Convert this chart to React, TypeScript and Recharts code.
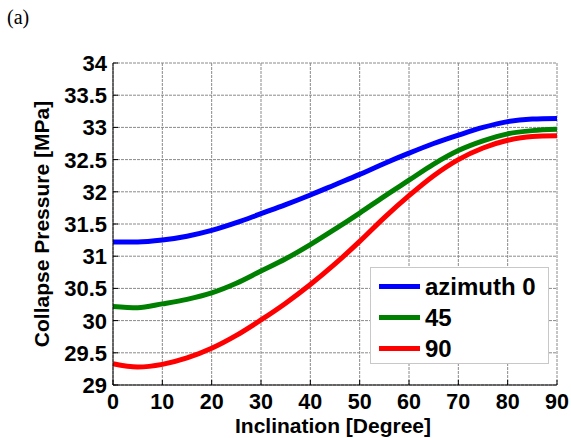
import React from "react";
import {
  LineChart,
  Line,
  XAxis,
  YAxis,
  CartesianGrid,
  Legend,
} from "recharts";

const inclination = [0, 5, 10, 15, 20, 25, 30, 35, 40, 45, 50, 55, 60, 65, 70, 75, 80, 85, 90];
const azimuth0 = [31.22, 31.22, 31.25, 31.31, 31.4, 31.52, 31.66, 31.8, 31.95, 32.11, 32.27, 32.44, 32.6, 32.75, 32.88, 33.0, 33.09, 33.13, 33.14];
const azimuth45 = [30.22, 30.2, 30.26, 30.33, 30.43, 30.58, 30.77, 30.96, 31.18, 31.42, 31.67, 31.93, 32.18, 32.43, 32.64, 32.79, 32.9, 32.95, 32.97];
const azimuth90 = [29.33, 29.28, 29.32, 29.42, 29.57, 29.77, 30.01, 30.27, 30.56, 30.88, 31.23, 31.6, 31.94, 32.25, 32.5, 32.68, 32.8, 32.86, 32.87];

const xTicks = [0, 10, 20, 30, 40, 50, 60, 70, 80, 90];
const yTicks = [29, 29.5, 30, 30.5, 31, 31.5, 32, 32.5, 33, 33.5, 34];

const series = [
  { key: "a0", name: "azimuth 0", color: "#0000ff" },
  { key: "a45", name: "45", color: "#008000" },
  { key: "a90", name: "90", color: "#ff0000" },
];

const data = inclination.map((x, i) => ({
  x,
  a0: azimuth0[i],
  a45: azimuth45[i],
  a90: azimuth90[i],
}));

const FONT = "'Liberation Sans', Arial, sans-serif";
const TICK_GAP = 9;

function BottomTick(props: any) {
  const { x, y, payload } = props;
  const axisY = y - TICK_GAP;
  return (
    <g>
      <line x1={x} x2={x} y1={axisY} y2={axisY - 5} stroke="#000" strokeWidth={1} />
      <text x={x} y={y} dy="0.71em" textAnchor="middle" fontFamily={FONT} fontWeight="bold" fontSize={21.5} fill="#000">
        {payload.value}
      </text>
    </g>
  );
}

function LeftTick(props: any) {
  const { x, y, payload } = props;
  const axisX = x + 6;
  return (
    <g>
      <line x1={axisX} x2={axisX + 5} y1={y} y2={y} stroke="#000" strokeWidth={1} />
      <text x={x} y={y} dy="0.36em" textAnchor="end" fontFamily={FONT} fontWeight="bold" fontSize={22} fill="#000">
        {payload.value}
      </text>
    </g>
  );
}

function LegendBox() {
  return (
    <div
      style={{
        border: "1px solid #c8c8c8",
        background: "#fff",
        width: 177,
        height: 92,
        paddingTop: 3,
      }}
    >
      {series.map((s) => (
        <div key={s.key} style={{ display: "flex", alignItems: "center", height: 31 }}>
          <div style={{ width: 41, height: 5, background: s.color, marginLeft: 8, marginRight: 5 }} />
          <span style={{ fontFamily: FONT, fontWeight: "bold", fontSize: 24, color: "#000", lineHeight: "31px" }}>
            {s.name}
          </span>
        </div>
      ))}
    </div>
  );
}

export default function App() {
  return (
    <div style={{ position: "absolute", left: 0, top: 0, width: 571, height: 438, background: "#fff" }}>
      <div
        style={{
          position: "absolute",
          left: 7,
          top: 6,
          fontFamily: "'Liberation Serif', 'Times New Roman', serif",
          fontSize: 20,
        }}
      >
        (a)
      </div>
      <LineChart width={571} height={438} data={data} margin={{ top: 63, right: 14, bottom: 0, left: 0 }}>
        <CartesianGrid stroke="#8a8a8a" strokeDasharray="3 1" />
        <XAxis
          dataKey="x"
          type="number"
          domain={[0, 90]}
          ticks={xTicks}
          interval={0}
          height={53}
          stroke="#000"
          tickLine={false}
          tickSize={0}
          tickMargin={TICK_GAP}
          tick={<BottomTick />}
          label={{
            value: "Inclination [Degree]",
            position: "insideBottom",
            offset: 5,
            dx: -2,
            style: { fontFamily: FONT, fontWeight: "bold", fontSize: 21, fill: "#000" },
          }}
        />
        <XAxis
          xAxisId="top"
          dataKey="x"
          type="number"
          orientation="top"
          domain={[0, 90]}
          ticks={xTicks}
          interval={0}
          height={0}
          mirror
          stroke="#000"
          tickSize={5}
          tick={false}
        />
        <YAxis
          type="number"
          domain={[29, 34]}
          ticks={yTicks}
          interval={0}
          width={113}
          stroke="#000"
          tickLine={false}
          tickSize={0}
          tickMargin={6}
          tick={<LeftTick />}
          label={{
            value: "Collapse Pressure [MPa]",
            angle: -90,
            position: "insideLeft",
            offset: 42,
            style: { textAnchor: "middle", fontFamily: FONT, fontWeight: "bold", fontSize: 21, fill: "#000" },
          }}
        />
        <YAxis
          yAxisId="right"
          type="number"
          orientation="right"
          domain={[29, 34]}
          ticks={yTicks}
          interval={0}
          width={0}
          mirror
          stroke="#000"
          tickSize={5}
          tick={false}
        />
        {series.map((s) => (
          <Line
            key={s.key}
            type="monotone"
            dataKey={s.key}
            name={s.name}
            stroke={s.color}
            strokeWidth={5}
            dot={false}
            isAnimationActive={false}
          />
        ))}
        <Legend
          layout="horizontal"
          verticalAlign="middle"
          align="center"
          content={<LegendBox />}
          wrapperStyle={{ position: "absolute", left: 370, top: 267, width: "auto", height: "auto" }}
        />
      </LineChart>
    </div>
  );
}
